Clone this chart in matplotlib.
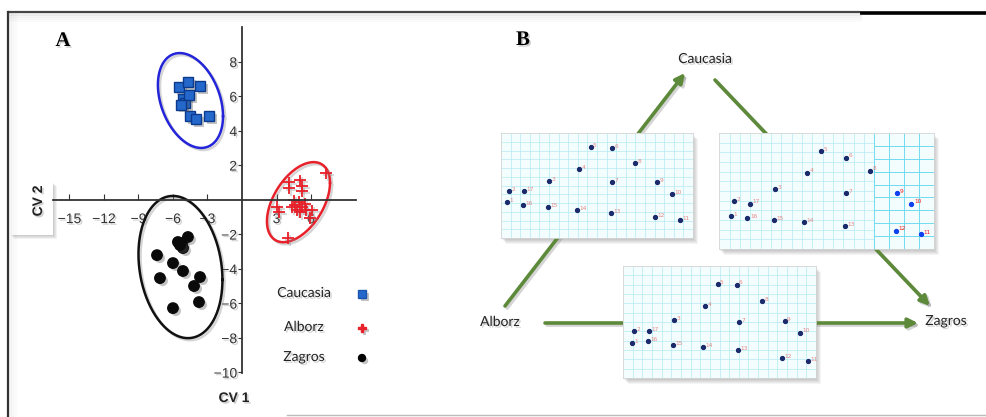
import numpy as np
import matplotlib
matplotlib.use("Agg")
import matplotlib.pyplot as plt
from matplotlib import patheffects as pe
from matplotlib.patches import Rectangle

W, H = 986, 417

# canonical variate scores per population
caucasia_x = [-5.48, -4.70, -3.65, -5.13, -4.96, -4.61, -4.52, -4.00, -2.87, -5.30]
caucasia_y = [6.52, 6.81, 6.58, 5.83, 5.59, 6.06, 4.84, 4.67, 4.84, 5.50]
alborz_x = [4.09, 5.04, 5.22, 4.09, 5.22, 7.30, 3.04, 3.22, 4.00, 5.91,
            6.09, 4.61, 4.96, 5.22, 4.78, 5.48, 4.35, 5.04, 5.57, 4.52]
alborz_y = [1.01, 1.13, 0.78, 0.67, 0.49, 1.54, -0.43, -0.72, -2.23, -1.07,
            -0.61, -0.32, -0.14, -0.43, -0.61, -0.26, -0.43, -0.72, -0.61, -0.03]
zagros_x = [-4.70, -5.57, -5.22, -5.13, -5.39, -7.39, -6.00, -5.13, -3.65,
            -7.13, -4.17, -3.74, -6.00]
zagros_y = [-2.17, -2.46, -2.52, -2.81, -2.64, -3.22, -3.68, -4.14, -4.49,
            -4.55, -5.01, -5.94, -6.29]

# confidence ellipses: centre, spread along CV1 / CV2, correlation
ell_cx = [-4.48, 4.91, -5.35]
ell_cy = [5.74, -0.15, -3.91]
ell_sx = [2.83, 2.74, 3.65]
ell_sy = [2.75, 2.32, 4.12]
ell_rho = [-0.33, 0.48, -0.18]

tick_x = [-15, -12, -9, -6, -3, 3, 6]
tick_y = [-10, -8, -6, -4, -2, 2, 4, 6, 8]

groups = ["Caucasia", "Alborz", "Zagros"]

# landmark configurations (relative coords inside each grid), landmarks 1..17
landmark_ids = list(range(1, 18))
ca_lx = [0.031, 0.043, 0.251, 0.408, 0.467, 0.580, 0.580, 0.697, 0.815, 0.893,
         0.934, 0.804, 0.573, 0.394, 0.244, 0.114, 0.118]
ca_ly = [0.660, 0.549, 0.454, 0.343, 0.133, 0.143, 0.470, 0.286, 0.467, 0.578,
         0.832, 0.803, 0.762, 0.730, 0.708, 0.686, 0.556]
cz_lx = [0.057, 0.070, 0.260, 0.408, 0.473, 0.592, 0.592, 0.702, 0.829, 0.895,
         0.941, 0.822, 0.584, 0.395, 0.256, 0.132, 0.144]
cz_ly = [0.716, 0.588, 0.484, 0.342, 0.159, 0.212, 0.516, 0.325, 0.516, 0.609,
         0.870, 0.841, 0.806, 0.771, 0.754, 0.736, 0.609]
az_lx = [0.045, 0.059, 0.265, 0.427, 0.490, 0.589, 0.600, 0.721, 0.838, 0.915,
         0.960, 0.825, 0.595, 0.414, 0.261, 0.132, 0.135]
az_ly = [0.688, 0.578, 0.484, 0.359, 0.163, 0.166, 0.500, 0.313, 0.491, 0.594,
         0.850, 0.822, 0.750, 0.725, 0.703, 0.672, 0.584]


def px_rect(x0, y0, x1, y1):
    return [x0 / W, 1 - y1 / H, (x1 - x0) / W, (y1 - y0) / H]


def ellipse_points(cx, cy, sx, sy, rho, n=240):
    cov = np.array([[sx * sx, rho * sx * sy], [rho * sx * sy, sy * sy]])
    L = np.linalg.cholesky(cov)
    t = np.linspace(0, 2 * np.pi, n)
    pts = L @ np.vstack([np.cos(t), np.sin(t)])
    return cx + pts[0], cy + pts[1]


txt_shadow = [pe.withSimplePatchShadow(offset=(1.2, -1.2), shadow_rgbFace="#777", alpha=0.35)]
mk_shadow = [pe.withSimplePatchShadow(offset=(2, -2), shadow_rgbFace="#555", alpha=0.35)]
ln_shadow = [pe.SimpleLineShadow(offset=(1.5, -1.5), shadow_color="#888", alpha=0.35), pe.Normal()]

fig = plt.figure(figsize=(W / 100, H / 100), dpi=100)
base = fig.add_axes([0, 0, 1, 1])
base.set_xlim(0, W)
base.set_ylim(H, 0)
base.axis("off")

# outer frame
base.plot([8, 860], [12, 12], color="#444", lw=1.6, solid_capstyle="butt")
base.plot([860, W], [12.5, 12.5], color="black", lw=2.6, solid_capstyle="butt")
base.plot([8, 8], [12, H], color="#333", lw=1.6)
base.plot([287, W], [415, 415], color="#bbb", lw=1.0)
for k, a in enumerate([0.12, 0.08, 0.05, 0.03]):
    base.plot([9, 860], [14 + 2 * k, 14 + 2 * k], color="gray", alpha=a, lw=2)
    base.plot([10 + 2 * k, 10 + 2 * k], [14, H], color="gray", alpha=a * 0.6, lw=2)

# panel letters
base.text(63, 41, "A", fontsize=15, fontweight="bold", family="Liberation Serif",
          ha="center", va="center", path_effects=txt_shadow)
base.text(523, 40, "B", fontsize=15, fontweight="bold", family="Liberation Serif",
          ha="center", va="center", path_effects=txt_shadow)

# CV 2 label box
for k in range(1, 5):
    base.add_patch(Rectangle((10 + k, 182 + k), 43, 53, color="black", alpha=0.05, lw=0))
base.add_patch(Rectangle((10, 182), 43, 53, facecolor="white", edgecolor="none"))
base.text(38, 201, "CV 2", rotation=90, fontsize=10, fontweight="bold",
          family="Liberation Sans", ha="center", va="center", color="#222",
          path_effects=txt_shadow)
base.text(234, 398, "CV 1", fontsize=10, fontweight="bold", family="Liberation Sans",
          ha="center", va="center", color="#222", path_effects=txt_shadow)

# --- panel A: CVA scatter ---
ax = fig.add_axes(px_rect(53, 27, 356, 373))
ax.patch.set_alpha(0)
ax.set_xlim(-16.43, 9.91)
ax.set_ylim(-10.05, 10.0)
for side in ["top", "right"]:
    ax.spines[side].set_visible(False)
ax.spines["left"].set_position(("data", 0))
ax.spines["bottom"].set_position(("data", 0))
for side in ["left", "bottom"]:
    ax.spines[side].set_color("#333")
    ax.spines[side].set_linewidth(1.3)
ax.set_xticks(tick_x)
ax.set_yticks(tick_y)
ax.tick_params(axis="x", direction="in", length=4, pad=9, labelsize=10,
               labelcolor="#333", color="#333")
ax.tick_params(axis="y", direction="out", length=3, pad=0.5, labelsize=10,
               labelcolor="#333", color="#333")
for lab in ax.get_xticklabels() + ax.get_yticklabels():
    lab.set_family("Liberation Sans")
    lab.set_path_effects(txt_shadow)

ell_colors = ["#2424d8", "#e8202a", "#111111"]
for cx, cy, sx, sy, r, c in zip(ell_cx, ell_cy, ell_sx, ell_sy, ell_rho, ell_colors):
    ex, ey = ellipse_points(cx, cy, sx, sy, r)
    ax.plot(ex, ey, color=c, lw=1.8, path_effects=ln_shadow)

ax.plot(caucasia_x, caucasia_y, "s", ms=7, mfc="#2468cc", mec="#0b3a8c", mew=1.0,
        path_effects=mk_shadow)
ax.plot(alborz_x, alborz_y, "+", ms=8, color="#e8202a", mew=1.3, path_effects=ln_shadow)
ax.plot(zagros_x, zagros_y, "o", ms=7.5, color="#0a0a0a", path_effects=mk_shadow)

# legend
leg_y = [293, 327, 357]
leg_marker = [dict(marker="s", ms=6, mfc="#2468cc", mec="#1a55b0"),
              dict(marker="P", ms=6, mfc="#e8202a", mec="#e8202a"),
              dict(marker="o", ms=5, mfc="black", mec="black")]
for name, y, m in zip(groups, leg_y, leg_marker):
    base.text(304, y, name, fontsize=10, family="Lato", ha="center", va="center",
              color="#222", path_effects=txt_shadow)
    base.plot([362], [y + 1], ls="none", path_effects=mk_shadow, **m)

# --- panel B: deformation grids ---
arrow_c = "#5d8a3a"
arrows = [((505, 306), (685, 73)), ((715, 80), (930, 306)), ((545, 323), (918, 323))]
for (sx0, sy0), (ex0, ey0) in arrows:
    base.annotate("", xy=(ex0, ey0), xytext=(sx0, sy0),
                  arrowprops=dict(arrowstyle="-|>", color=arrow_c, lw=2.6,
                                  mutation_scale=14, shrinkA=0, shrinkB=0,
                                  path_effects=ln_shadow))

base.text(705, 59, "Caucasia", fontsize=10, family="Lato", ha="center", va="center",
          color="#222", path_effects=txt_shadow)
base.text(500, 322, "Alborz", fontsize=10, family="Lato", ha="center", va="center",
          color="#222", path_effects=txt_shadow)
base.text(946, 321, "Zagros", fontsize=10, family="Lato", ha="center", va="center",
          color="#222", path_effects=txt_shadow)


def deformation_box(rect, lx, ly, split=None):
    x0, y0, x1, y1 = rect
    for k in range(1, 6):
        base.add_patch(Rectangle((x0 + k, y0 + k + 1), x1 - x0, y1 - y0,
                                 color="black", alpha=0.045, lw=0))
    bx = fig.add_axes(px_rect(*rect))
    bx.set_xlim(0, 1)
    bx.set_ylim(1, 0)
    bx.set_facecolor("#f4fdfe")
    bx.set_xticks([])
    bx.set_yticks([])
    for s in bx.spines.values():
        s.set_color("#d4d4d4")
        s.set_linewidth(0.6)
    fine = "#b3ebf3"
    edge = 1.0 if split is None else split
    xs = np.arange(0.05, edge, 0.05 if split is None else edge / 15)
    bx.vlines(xs, 0, 1, color=fine, lw=0.5)
    bx.hlines(np.arange(1, 12) / 12, 0, edge, color=fine, lw=0.5)
    if split is not None:
        coarse = "#6fdcef"
        bx.vlines(np.arange(split, 1.0, 0.07), 0, 1, color=coarse, lw=0.7)
        bx.hlines(np.arange(1, 9) / 9, split, 1, color=coarse, lw=0.7)
    for n, x, y in zip(landmark_ids, lx, ly):
        bright = split is not None and x > split
        bx.plot(x, y, "o", ms=2.8, color="#1040f0" if bright else "#1b2a6b")
        bx.text(x + 0.012, y - 0.015, str(n), fontsize=4.2,
                color="#f01818" if bright else "#e06060",
                alpha=1.0 if bright else 0.75, ha="left", va="center")


deformation_box((501, 133, 693, 238), ca_lx, ca_ly)
deformation_box((719, 133, 934, 249), cz_lx, cz_ly, split=0.72)
deformation_box((623, 266, 816, 378), az_lx, az_ly)

fig.savefig("out.png", dpi=100)
